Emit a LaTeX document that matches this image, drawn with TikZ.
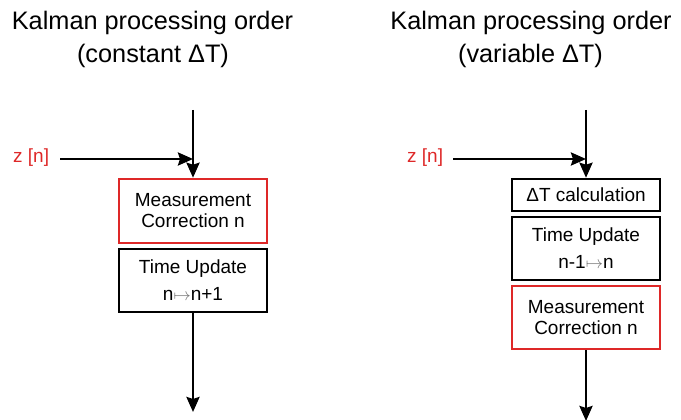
\documentclass[tikz,border=0pt]{standalone}
\usepackage{fontspec}
\setmainfont{Liberation Sans}
\usetikzlibrary{arrows.meta}
\definecolor{kred}{RGB}{222,40,40}
\tikzset{
  box/.style={draw=black, line width=2.5pt, minimum width=148pt, align=center, inner sep=0pt, font=\fontsize{19}{21}\selectfont},
  redbox/.style={box, draw=kred},
  flow/.style={line width=2.5pt, -{Stealth[length=15pt,width=13pt,inset=2pt]}},
  title/.style={anchor=base, inner sep=0pt, font=\fontsize{25.3}{33}\selectfont},
  zlabel/.style={text=kred, font=\fontsize{19}{21}\selectfont, inner sep=0pt}
}
\newcommand{\mapsarrow}{{\color{black!55}\fontsize{17}{17}\selectfont$\mapsto$}}
\begin{document}
\begin{tikzpicture}[x=1pt,y=-1pt]
\useasboundingbox (0,0) rectangle (681,420);
% left
\node[title] (t1a) at (152.5,30) {Kalman processing order};
\node[title] (t1b) at (153,63) {(constant ΔT)};
\node[redbox, minimum height=64pt] (mc1) at (193,211) {Measurement\\Correction n};
\node[box, minimum height=63pt] (tu1) at (193,280.5) {Time Update\\[6pt]n\mapsarrow n+1};
\coordinate (top1) at (193,110);
\coordinate (join1) at (193,159);
\coordinate (bot1) at (193,412);
\node[zlabel, anchor=west] (z1) at (13,158) {z [n]};
\coordinate (zs1) at (60,159);
\draw[flow] (zs1) -- (join1);
\draw[flow] (top1) -- (mc1.north);
\draw[flow] (tu1.south) -- (bot1);
% right
\node[title] (t2a) at (531,30) {Kalman processing order};
\node[title] (t2b) at (530.5,63) {(variable ΔT)};
\node[box, minimum height=32pt] (dt2) at (586,195) {ΔT calculation};
\node[box, minimum height=63pt] (tu2) at (586,248.5) {Time Update\\[6pt]n-1\mapsarrow n};
\node[redbox, minimum height=63pt] (mc2) at (586,317.5) {Measurement\\Correction n};
\coordinate (top2) at (586,110);
\coordinate (join2) at (586,159);
\coordinate (bot2) at (586,421);
\node[zlabel, anchor=west] (z2) at (407,158) {z [n]};
\coordinate (zs2) at (453,159);
\draw[flow] (zs2) -- (join2);
\draw[flow] (top2) -- (dt2.north);
\draw[flow] (mc2.south) -- (bot2);
\end{tikzpicture}
\end{document}
